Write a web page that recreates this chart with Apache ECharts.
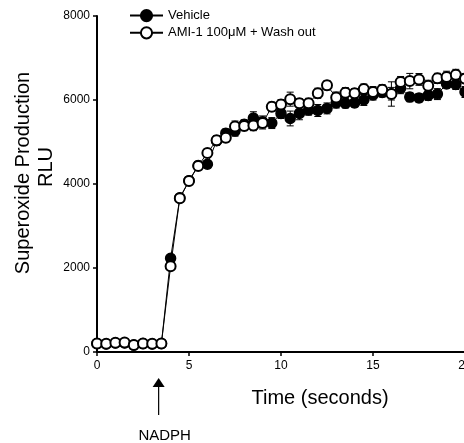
<!DOCTYPE html>
<html>
<head>
<meta charset="utf-8">
<script src="https://cdn.jsdelivr.net/npm/echarts@6/dist/echarts.min.js"></script>
<style>
html,body{margin:0;padding:0;background:#fff;}
#chart{width:464px;height:443px;}
</style>
</head>
<body>
<div id="chart"></div>
<script>
// ---- data ----
const timeSec = [0,0.5,1,1.5,2,2.5,3,3.5,4,4.5,5,5.5,6,6.5,7,7.5,8,8.5,9,9.5,10,10.5,11,11.5,12,12.5,13,13.5,14,14.5,15,15.5,16,16.5,17,17.5,18,18.5,19,19.5,20];
const vehicle = [200,190,215,215,165,200,190,200,2230,3670,4080,4440,4470,5030,5210,5260,5420,5570,5480,5450,5680,5560,5680,5760,5750,5800,5930,5920,5930,6000,6120,6180,6150,6280,6070,6050,6110,6140,6380,6370,6190];
const vehicleErr = [20,20,20,20,20,20,20,20,80,80,90,100,90,110,100,120,110,150,140,130,120,176,150,120,143,130,120,110,100,130,120,110,150,130,110,100,120,130,100,120,130];
const ami = [205,195,220,225,165,205,195,205,2040,3660,4070,4430,4740,5040,5100,5370,5380,5390,5450,5840,5890,6020,5920,5920,6160,6350,6060,6175,6160,6260,6190,6245,6143,6430,6450,6490,6340,6515,6545,6600,6510];
const amiErr = [20,20,20,20,20,20,20,20,70,60,80,90,100,110,100,130,110,120,140,110,120,167,110,120,120,110,130,120,110,120,130,120,290,130,183,140,130,120,140,130,120];
const seriesNames = ['Vehicle', 'AMI-1 100\u03bcM + Wash out'];
const xTicks = [0, 5, 10, 15, 20];
const yTicks = [0, 2000, 4000, 6000, 8000];
const nadphTime = 3.35;

const FONT = '"Liberation Sans", Arial, Helvetica, sans-serif';
const pairs = (ys) => timeSec.map((t, i) => [t, ys[i]]);
const errPairs = (ys, es) => timeSec.map((t, i) => [t, ys[i], es[i]]);

function errRender(params, api) {
  const x = api.value(0), y = api.value(1), e = api.value(2);
  const hi = api.coord([x, y + e]);
  const lo = api.coord([x, y - e]);
  const w = 3.5;
  const st = { stroke: '#000', lineWidth: 1 };
  return {
    type: 'group',
    children: [
      { type: 'line', shape: { x1: hi[0], y1: hi[1], x2: lo[0], y2: lo[1] }, style: st },
      { type: 'line', shape: { x1: hi[0] - w, y1: hi[1], x2: hi[0] + w, y2: hi[1] }, style: st },
      { type: 'line', shape: { x1: lo[0] - w, y1: lo[1], x2: lo[0] + w, y2: lo[1] }, style: st }
    ]
  };
}

const chart = echarts.init(document.getElementById('chart'), null, { renderer: 'canvas' });
const option = {
  backgroundColor: '#fff',
  animation: false,
  textStyle: { fontFamily: FONT },
  grid: { left: 97, right: -1, top: 16, bottom: 91, containLabel: false, outerBoundsMode: 'none' },
  legend: {
    data: seriesNames,
    orient: 'vertical',
    left: 129, top: 9, padding: 0,
    itemWidth: 33, itemHeight: 14, itemGap: 4,
    textStyle: { fontFamily: FONT, fontSize: 13, color: '#000' }
  },
  xAxis: {
    type: 'value', min: xTicks[0], max: xTicks[xTicks.length - 1], interval: 5,
    splitLine: { show: false },
    axisLine: { lineStyle: { color: '#000', width: 2 } },
    axisTick: { length: 4, lineStyle: { color: '#000', width: 1.5 } },
    axisLabel: { color: '#000', fontSize: 12, margin: 8, fontFamily: FONT, formatter: (v) => String(v) }
  },
  yAxis: {
    type: 'value', min: yTicks[0], max: yTicks[yTicks.length - 1], interval: 2000,
    splitLine: { show: false },
    axisLine: { show: true, lineStyle: { color: '#000', width: 2 } },
    axisTick: { show: true, length: 4, lineStyle: { color: '#000', width: 1.5 } },
    axisLabel: { color: '#000', fontSize: 12, margin: 7, fontFamily: FONT, formatter: (v) => String(v) }
  },
  series: [
    {
      type: 'custom', name: 'vehErr', renderItem: errRender, data: errPairs(vehicle, vehicleErr),
      encode: { x: 0, y: 1 }, z: 1, silent: true
    },
    {
      type: 'custom', name: 'amiErr', renderItem: errRender, data: errPairs(ami, amiErr),
      encode: { x: 0, y: 1 }, z: 1, silent: true
    },
    {
      type: 'line', name: seriesNames[0], data: pairs(vehicle), z: 3,
      symbol: 'circle', symbolSize: 10,
      lineStyle: { color: '#000', width: 1 },
      itemStyle: { color: '#000', borderColor: '#000', borderWidth: 1.5 }
    },
    {
      type: 'line', name: seriesNames[1], data: pairs(ami), z: 4,
      symbol: 'circle', symbolSize: 10,
      lineStyle: { color: '#000', width: 1 },
      itemStyle: { color: '#fff', borderColor: '#000', borderWidth: 2 }
    }
  ]
};
chart.setOption(option);

const ax = chart.convertToPixel({ xAxisIndex: 0 }, nadphTime);
chart.setOption({
  graphic: [
    { type: 'text', x: 23, y: 173, rotation: Math.PI / 2,
      style: { text: 'Superoxide Production', font: '20px ' + FONT, fill: '#000', align: 'center', verticalAlign: 'middle' } },
    { type: 'text', x: 46, y: 167, rotation: Math.PI / 2,
      style: { text: 'RLU', font: '20px ' + FONT, fill: '#000', align: 'center', verticalAlign: 'middle' } },
    { type: 'text', x: 320, y: 398,
      style: { text: 'Time (seconds)', font: '20px ' + FONT, fill: '#000', align: 'center', verticalAlign: 'middle' } },
    { type: 'text', x: ax + 6, y: 436,
      style: { text: 'NADPH', font: '15px ' + FONT, fill: '#000', align: 'center', verticalAlign: 'middle' } },
    { type: 'line', shape: { x1: ax, y1: 415, x2: ax, y2: 384 }, style: { stroke: '#000', lineWidth: 1.2 } },
    { type: 'polygon', shape: { points: [[ax, 378], [ax - 6, 387], [ax + 6, 387]] }, style: { fill: '#000' } }
  ]
});
</script>
</body>
</html>
